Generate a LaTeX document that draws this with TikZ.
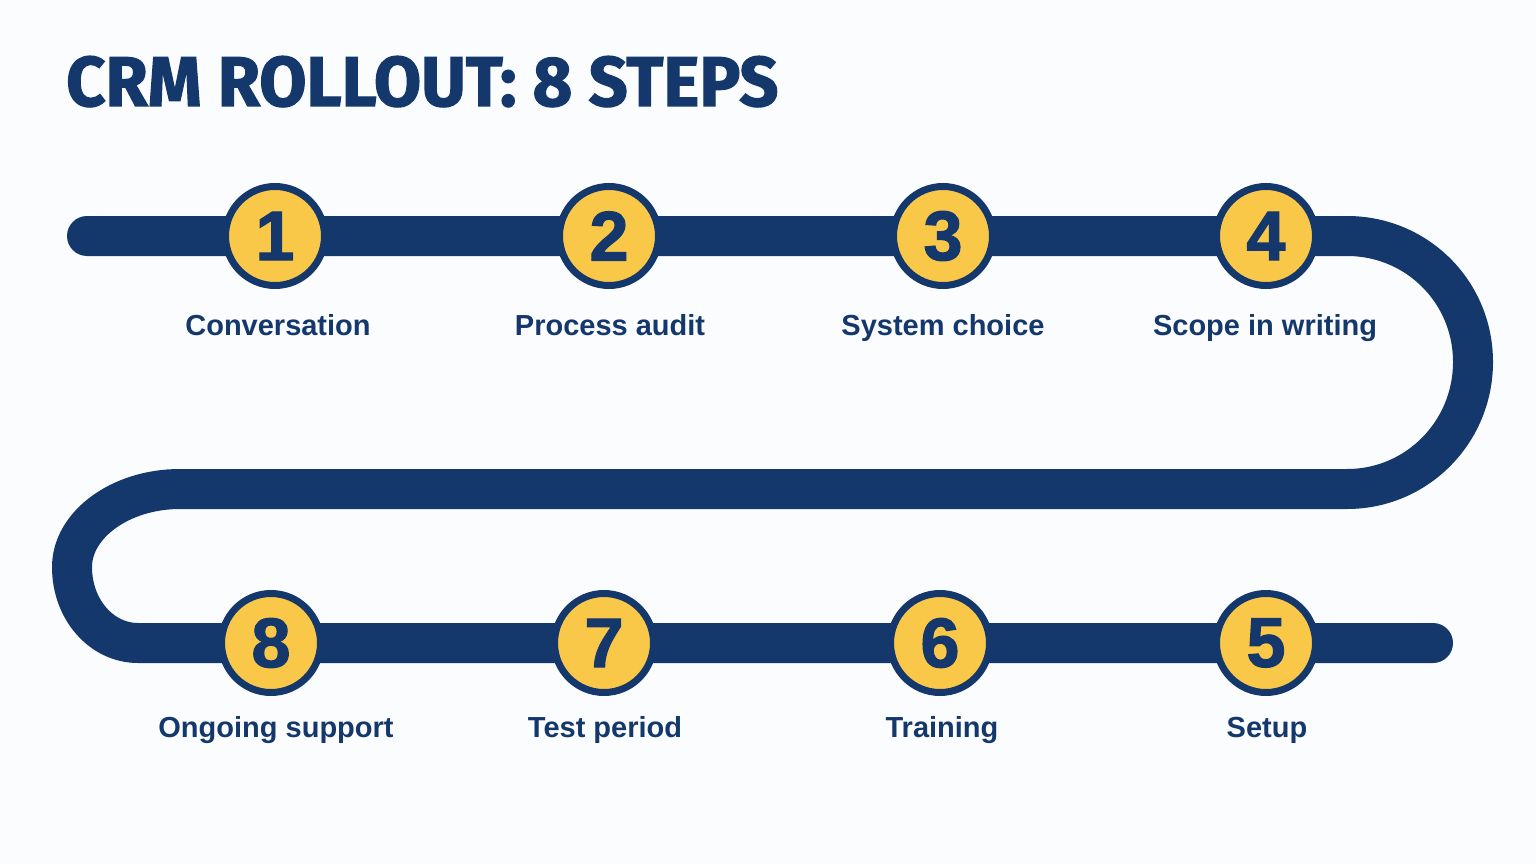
\documentclass[tikz,border=0pt]{standalone}
\usepackage{fontspec}
\setmainfont{Liberation Sans}
\newfontfamily\titlefont[FakeBold=1.6]{Fira Sans}
\newfontfamily\numfont[FakeBold=1.8]{Liberation Sans}
\definecolor{navy}{RGB}{20,56,108}
\definecolor{gold}{RGB}{250,200,72}
\definecolor{bgc}{RGB}{251,252,253}
\tikzset{
  snake/.style={draw=navy, line width=40pt, line cap=round, line join=round},
  stepcircle/.style={circle, fill=gold, draw=navy, line width=7pt, minimum size=99pt, inner sep=0pt,
     text=navy, font=\numfont\bfseries\fontsize{70}{70}\selectfont},
  steplabel/.style={text=navy, font=\bfseries\fontsize{29}{29}\selectfont, anchor=base, inner sep=0pt},
}
\begin{document}
\begin{tikzpicture}[x=1pt,y=-1pt]
\fill[bgc] (0,0) rectangle (1536,864);
\useasboundingbox (0,0) rectangle (1536,864);
% title
\node[anchor=base west, inner sep=0pt, text=navy] (title) at (66,106)
  {\resizebox{712pt}{50pt}{\titlefont\bfseries CRM ROLLOUT: 8 STEPS}};
% centers
\coordinate (c1) at (275,236);
\coordinate (c2) at (609,236);
\coordinate (c3) at (943,236);
\coordinate (c4) at (1266,236);
\coordinate (c5) at (1266,643);
\coordinate (c6) at (940,643);
\coordinate (c7) at (604,643);
\coordinate (c8) at (271,643);
\coordinate (start) at (87,236);
\coordinate (finish) at (1433,643);
% snake path
\draw[snake] (start) -- (c1) -- (c2) -- (c3) -- (c4) -- (1347,236)
  .. controls (1417,236) and (1473,292) .. (1473,362)
  .. controls (1473,432) and (1417,489) .. (1347,489)
  -- (180,489)
  .. controls (120,489) and (72,525) .. (72,567)
  .. controls (72,610) and (102,643) .. (138,643)
  -- (c8) -- (c7) -- (c6) -- (c5) -- (finish);
% circles
\node[stepcircle] (s1) at (c1) {1};
\node[stepcircle] (s2) at (c2) {2};
\node[stepcircle] (s3) at (c3) {3};
\node[stepcircle] (s4) at (c4) {4};
\node[stepcircle] (s5) at (c5) {5};
\node[stepcircle] (s6) at (c6) {6};
\node[stepcircle] (s7) at (c7) {7};
\node[stepcircle] (s8) at (c8) {8};
% labels
\node[steplabel] (l1) at (278,335) {Conversation};
\node[steplabel] (l2) at (610,335) {Process audit};
\node[steplabel] (l3) at (943,335) {System choice};
\node[steplabel] (l4) at (1265,335) {Scope in writing};
\node[steplabel] (l5) at (1267,737) {Setup};
\node[steplabel] (l6) at (942,737) {Training};
\node[steplabel] (l7) at (605,737) {Test period};
\node[steplabel] (l8) at (276,737) {Ongoing support};
\end{tikzpicture}
\end{document}
